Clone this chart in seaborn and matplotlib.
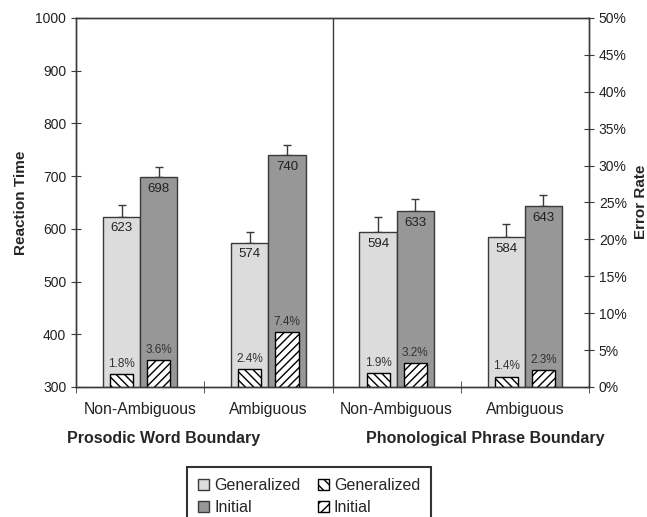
import matplotlib
matplotlib.use("Agg")
import matplotlib.pyplot as plt
from matplotlib.patches import Patch
import pandas as pd
import numpy as np
import seaborn as sns

# data
conditions = ["PW Non-Ambiguous", "PW Ambiguous", "PP Non-Ambiguous", "PP Ambiguous"]
tick_labels = ["Non-Ambiguous", "Ambiguous", "Non-Ambiguous", "Ambiguous"]
group_labels = ["Prosodic Word Boundary", "Phonological Phrase Boundary"]
types = ["Generalized", "Initial"]

rt_generalized = [623, 574, 594, 584]
rt_initial = [698, 740, 633, 643]
rt_sd_generalized = [22, 20, 29, 26]
rt_sd_initial = [20, 20, 23, 21]

err_generalized = [1.8, 2.4, 1.9, 1.4]
err_initial = [3.6, 7.4, 3.2, 2.3]

light = "#dcdcdc"
dark = "#979797"
edge = "#3a3a3a"

sns.set_style("ticks")
plt.rcParams["font.family"] = ["Liberation Sans", "DejaVu Sans"]
plt.rcParams["hatch.linewidth"] = 1.0

rt_df = pd.DataFrame({
    "condition": conditions * 2,
    "type": [types[0]] * 4 + [types[1]] * 4,
    "rt": rt_generalized + rt_initial,
})
err_df = pd.DataFrame({
    "condition": conditions * 2,
    "type": [types[0]] * 4 + [types[1]] * 4,
    "err": err_generalized + err_initial,
})

fig = plt.figure(figsize=(6.47, 5.17), dpi=100)
ax = fig.add_axes([0.1175, 0.2515, 0.7929, 0.7137])

sns.barplot(data=rt_df, x="condition", y="rt", hue="type", order=conditions,
            hue_order=types, palette={types[0]: light, types[1]: dark},
            width=0.58, edgecolor=edge, linewidth=1.0, legend=False, ax=ax,
            errorbar=None, zorder=2)

# upward-only error bars and value labels
for cont, sds, vals in zip(ax.containers, [rt_sd_generalized, rt_sd_initial],
                           [rt_generalized, rt_initial]):
    xs = [p.get_x() + p.get_width() / 2 for p in cont.patches]
    ax.errorbar(xs, vals, yerr=[np.zeros(len(sds)), sds], fmt="none",
                ecolor=edge, elinewidth=1.0, capsize=3, capthick=1.0, zorder=1)
    for x, v in zip(xs, vals):
        ax.annotate(f"{v}", (x, v), xytext=(0, -4), textcoords="offset points",
                    ha="center", va="top", fontsize=9.5, color="#222222", zorder=5)

ax.set_ylim(300, 1000)
ax.set_xlim(-0.5, 3.5)
ax.set_yticks(range(300, 1001, 100))
ax.set_xticks(range(4))
ax.set_xticklabels(tick_labels, fontsize=11.3, color="#222222")
ax.set_xticks([-0.5, 0.5, 1.5, 2.5, 3.5], minor=True)
ax.tick_params(axis="x", which="major", length=0, pad=11)
ax.tick_params(axis="x", which="minor", direction="inout", length=8, color=edge)
ax.tick_params(axis="y", direction="inout", length=7, color=edge, labelsize=10,
               labelcolor="#222222")
ax.set_xlabel("")
ax.set_ylabel("Reaction Time", fontsize=11, fontweight="bold", labelpad=5)
ax.axvline(1.5, color=edge, linewidth=1.0, zorder=3)
for s in ax.spines.values():
    s.set_color(edge)
    s.set_linewidth(1.0)

ax2 = ax.twinx()
sns.barplot(data=err_df, x="condition", y="err", hue="type", order=conditions,
            hue_order=types, palette={types[0]: "white", types[1]: "white"},
            width=0.58, edgecolor="black", linewidth=1.0, legend=False, ax=ax2,
            errorbar=None)
hatches = ["\\\\\\\\", "////"]
for cont, h, vals in zip(ax2.containers, hatches, [err_generalized, err_initial]):
    for p, v in zip(cont.patches, vals):
        c = p.get_x() + p.get_width() / 2
        p.set_width(0.18)
        p.set_x(c - 0.09)
        p.set_hatch(h)
        ax2.annotate(f"{v:.1f}%", (c, v), xytext=(0, 3), textcoords="offset points",
                     ha="center", va="bottom", fontsize=8.5, color="#333333")

ax2.set_ylim(0, 50)
ax2.set_yticks(range(0, 51, 5))
ax2.set_yticklabels([f"{t}%" for t in range(0, 51, 5)])
ax2.tick_params(axis="y", direction="inout", length=7, color=edge, labelsize=10,
                labelcolor="#222222")
ax2.set_ylabel("")
ax2.set_xlabel("")
for s in ax2.spines.values():
    s.set_color(edge)
    s.set_linewidth(1.0)

fig.text(0.991, 0.61, "Error Rate", rotation=90, ha="center", va="center",
         fontsize=11, fontweight="bold")

for gx, g in zip([164, 485], group_labels):
    fig.text(gx / 647, 1 - 438 / 517, g, ha="center", va="center",
             fontsize=11.5, fontweight="bold")

handles = [
    Patch(facecolor=light, edgecolor=edge, label=types[0]),
    Patch(facecolor=dark, edgecolor=edge, label=types[1]),
    Patch(facecolor="white", edgecolor="black", hatch="\\\\\\", label=types[0]),
    Patch(facecolor="white", edgecolor="black", hatch="///", label=types[1]),
]
leg = fig.legend(handles=handles, ncol=2, loc="upper left",
                 bbox_to_anchor=(187 / 647, 1 - 467 / 517), fontsize=11.5,
                 frameon=True, fancybox=False, edgecolor="black",
                 handlelength=0.7, handleheight=0.7, handletextpad=0.3,
                 columnspacing=1.1, borderpad=0.7, labelspacing=0.45,
                 borderaxespad=0)
leg.get_frame().set_linewidth(1.5)

fig.savefig("out.png", dpi=100)
